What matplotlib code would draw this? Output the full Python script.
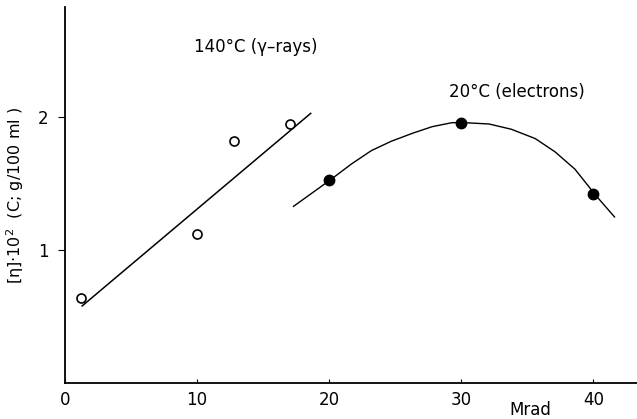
import numpy as np
import matplotlib.pyplot as plt

plt.rcParams['font.family'] = ['DejaVu Sans']

# 140 C, gamma-rays (open circles) and its straight line
gamma_dose = [1.2, 10.0, 12.8, 17.0]
gamma_eta = [0.64, 1.12, 1.82, 1.95]
gamma_line_x = [1.3, 18.6]
gamma_line_y = [0.58, 2.03]

# 20 C, electrons (filled circles) and its curve
elec_dose = [20.0, 30.0, 40.0]
elec_eta = [1.53, 1.96, 1.42]
curve_x = [17.3, 18.7, 20.1, 21.7, 23.2, 24.7, 26.3, 27.8, 29.3, 30.2,
           32.1, 33.8, 35.6, 37.1, 38.6, 40.2, 41.6]
curve_y = [1.33, 1.43, 1.53, 1.65, 1.75, 1.82, 1.88, 1.93, 1.96, 1.96,
           1.95, 1.91, 1.84, 1.74, 1.61, 1.41, 1.25]

xticks = [0, 10, 20, 30, 40]
yticks = [1, 2]

fig = plt.figure(figsize=(6.37, 4.19), dpi=100)
ax = fig.add_axes([0.102, 0.086, 0.898, 0.897])

ax.plot(gamma_line_x, gamma_line_y, color='black', lw=1.1)
ax.plot(gamma_dose, gamma_eta, 'o', mfc='white', mec='black', ms=6.5, mew=1.2)

ax.plot(curve_x, curve_y, color='black', lw=1.0)
ax.plot(elec_dose, elec_eta, 'o', color='black', ms=7.5)

ax.set_xlim(0, 43.3)
ax.set_ylim(0, 2.83)
ax.set_xticks(xticks)
ax.set_yticks(yticks)
ax.spines['top'].set_visible(False)
ax.spines['right'].set_visible(False)
for s in ax.spines.values():
    s.set_linewidth(1.3)
ax.tick_params(axis='x', direction='in', length=3, labelsize=12, pad=6)
ax.tick_params(axis='y', direction='out', length=5, labelsize=12, pad=7)

ax.set_ylabel('[η]·10$^2$  (C; g/100 ml )', fontsize=11.5)
ax.yaxis.set_label_coords(-0.068, 0.5)
ax.text(35.2, -0.2, 'Mrad', fontsize=12, ha='center', va='center', clip_on=False)

ax.text(9.8, 2.53, '140°C (γ–rays)', fontsize=12, ha='left', va='center')
ax.text(29.1, 2.19, '20°C (electrons)', fontsize=12, ha='left', va='center')

fig.savefig('out.png', dpi=100)
